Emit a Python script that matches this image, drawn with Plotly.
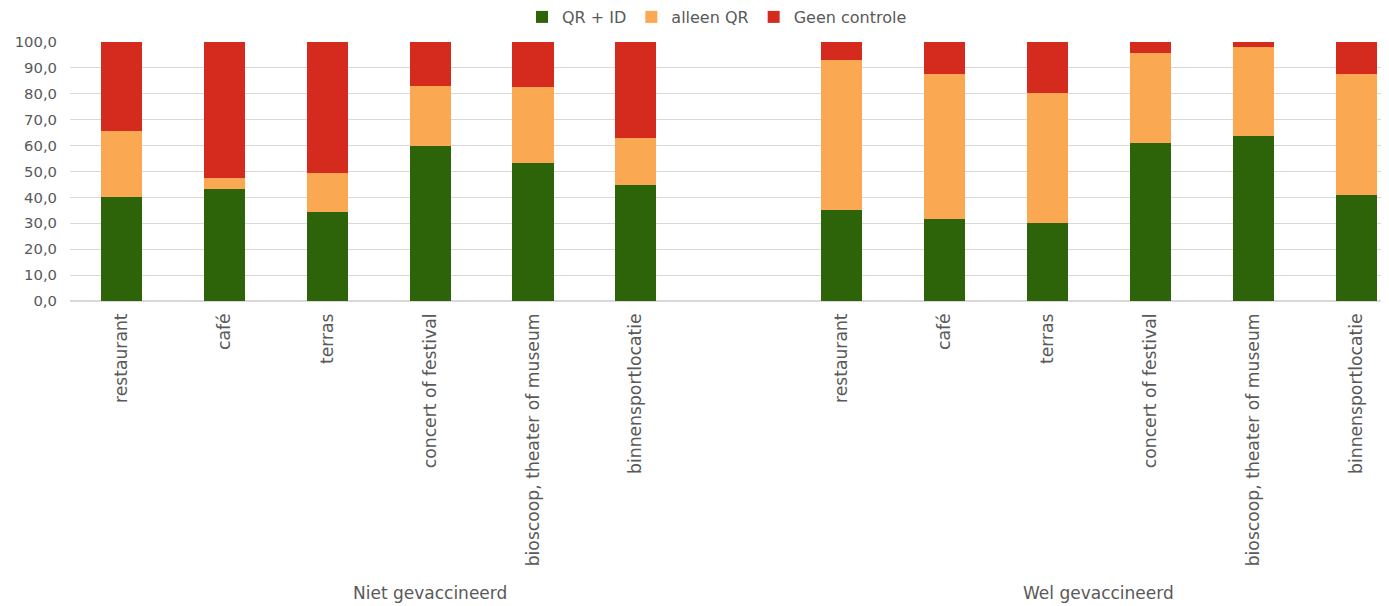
import plotly.graph_objects as go

categories = ["restaurant", "café", "terras", "concert of festival",
              "bioscoop, theater of museum", "binnensportlocatie"]
groups = ["Niet gevaccineerd", "Wel gevaccineerd"]

# segment values (percent)
niet_qr_id = [40.3, 43.2, 34.2, 59.7, 53.4, 44.9]
niet_alleen_qr = [25.5, 4.2, 15.1, 23.4, 29.4, 17.9]
niet_geen = [34.2, 52.6, 50.7, 16.9, 17.2, 37.2]

wel_qr_id = [35.1, 31.5, 30.1, 60.9, 63.6, 40.9]
wel_alleen_qr = [57.8, 56.1, 50.2, 34.8, 34.6, 46.7]
wel_geen = [7.1, 12.4, 19.7, 4.3, 1.8, 12.4]

series_names = ["QR + ID", "alleen QR", "Geen controle"]
colors = ["#2d6409", "#fba852", "#d42b1e"]

# positions: left group slots 0-5, empty slot 6, right group slots 7-12
x_left = list(range(6))
x_right = [i + 7 for i in range(6)]
xs = x_left + x_right
vals = [niet_qr_id + wel_qr_id, niet_alleen_qr + wel_alleen_qr, niet_geen + wel_geen]

fig = go.Figure()
for name, color, v in zip(series_names, colors, vals):
    fig.add_trace(go.Bar(x=xs, y=v, name=name, marker=dict(color=color, line=dict(width=0)),
                         width=0.4))

# the page body adds an 8px offset; figure is sized/margined to compensate
W, H = 1381, 598
font_family = "DejaVu Sans, Verdana, sans-serif"
fig.update_layout(
    barmode="stack",
    width=W, height=H,
    margin=dict(l=62, r=0, t=34, b=305),
    paper_bgcolor="white", plot_bgcolor="white",
    separators=",.",
    font=dict(family=font_family, size=15, color="#595959"),
    legend=dict(orientation="h", x=709 / W, xref="container", xanchor="center",
                y=1 - 9 / H, yref="container", yanchor="middle",
                font=dict(size=16, color="#595959"), traceorder="normal",
                itemwidth=30, tracegroupgap=0),
    xaxis=dict(range=[-0.5, 12.32], tickmode="array", tickvals=xs,
               ticktext=categories + categories, tickangle=-90, showgrid=False,
               zeroline=False, showline=False, ticks="", automargin=False,
               ticklabelstandoff=8,
               tickfont=dict(size=17.2, color="#595959")),
    yaxis=dict(range=[0, 100], dtick=10, tickformat=".1f", gridcolor="#d9d9d9",
               gridwidth=1, zeroline=True, zerolinecolor="#d9d9d9", showline=False,
               ticks="", automargin=False, ticklabelstandoff=12,
               tickfont=dict(size=14.8, color="#595959")),
    showlegend=True,
)

group_centers = [3, 9.5]
for g, c in zip(groups, group_centers):
    fig.add_annotation(x=c, xref="x", y=-1.128, yref="paper", text=g, showarrow=False,
                       font=dict(size=17, color="#595959"), xanchor="center", yanchor="middle")

fig.write_html("out.html")
